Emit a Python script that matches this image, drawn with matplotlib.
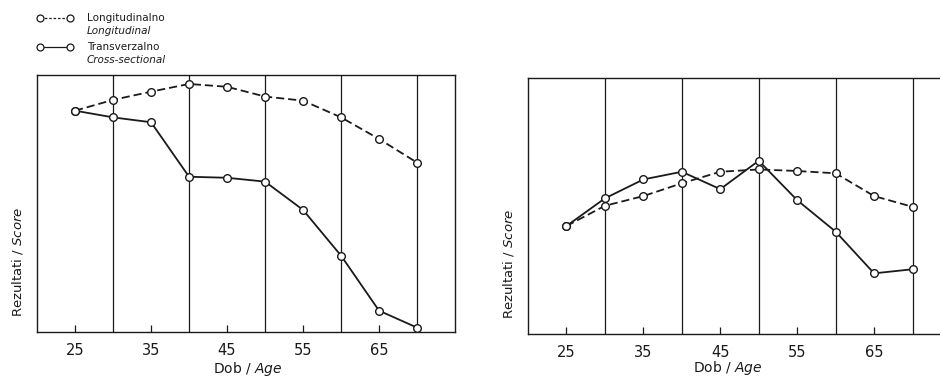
import numpy as np
import matplotlib
matplotlib.use("Agg")
import matplotlib.pyplot as plt
from matplotlib.lines import Line2D

plt.rcParams['font.family'] = ['DejaVu Sans']
plt.rcParams['mathtext.fontset'] = 'custom'
plt.rcParams['mathtext.rm'] = 'DejaVu Sans'
plt.rcParams['mathtext.it'] = 'DejaVu Sans:italic'

# starost / age
dob = [25, 30, 35, 40, 45, 50, 55, 60, 65, 70]

# lijevi graf (relativni rezultat, 0-100)
long_l = [86.1, 90.3, 93.5, 96.5, 95.4, 91.6, 90.0, 83.5, 75.1, 65.9]
trans_l = [86.1, 83.5, 81.6, 60.4, 60.0, 58.5, 47.5, 29.7, 8.3, 1.7]

# desni graf
long_r = [42.2, 50.1, 53.9, 58.9, 63.4, 64.3, 63.7, 62.8, 53.9, 49.7]
trans_r = [42.2, 53.0, 60.4, 63.4, 56.6, 67.7, 52.3, 40.0, 23.7, 25.3]

tick_pos = [25, 35, 45, 55, 65]
grid_pos = [30, 40, 50, 60, 70]

ink = '#1a1a1a'

fig = plt.figure(figsize=(9.4, 3.78), dpi=100)
ax1 = fig.add_axes([0.0394, 0.1217, 0.4447, 0.680])
ax2 = fig.add_axes([0.5617, 0.1164, 0.450, 0.677])


def crtaj(ax, lon, tr):
    for g in grid_pos:
        ax.axvline(g, color=ink, lw=0.9, zorder=1)
    ax.plot(dob, lon, ls=(0, (4.5, 2.2)), color=ink, lw=1.3, marker='o',
            ms=5.5, mfc='white', mec=ink, mew=1.0, zorder=3)
    ax.plot(dob, tr, ls='-', color=ink, lw=1.3, marker='o',
            ms=5.5, mfc='white', mec=ink, mew=1.0, zorder=3)
    ax.set_xlim(20, 75)
    ax.set_ylim(0, 100)
    ax.set_xticks(tick_pos)
    ax.set_xticklabels([str(t) for t in tick_pos], fontsize=10.5, color=ink)
    ax.set_yticks([])
    ax.tick_params(axis='x', direction='in', length=5, width=0.9, pad=8, colors=ink)
    for s in ax.spines.values():
        s.set_color(ink)
        s.set_linewidth(1.0)


crtaj(ax1, long_l, trans_l)
crtaj(ax2, long_r, trans_r)

# osi - tekst
fig.text(18 / 940, 1 - 262 / 378, 'Rezultati / $\\mathit{Score}$', rotation=90,
         ha='center', va='center', fontsize=9.5, color=ink)
fig.text(508 / 940, 1 - 264 / 378, 'Rezultati / $\\mathit{Score}$', rotation=90,
         ha='center', va='center', fontsize=9.5, color=ink)
fig.text(248 / 940, 1 - 369 / 378, 'Dob / $\\mathit{Age}$', ha='center', va='center',
         fontsize=10, color=ink)
fig.text(728 / 940, 1 - 368 / 378, 'Dob / $\\mathit{Age}$', ha='center', va='center',
         fontsize=10, color=ink)

# legenda
lx0, lx1 = 40 / 940, 70 / 940
for yy, ls in [(18, (0, (2, 1.5))), (47, '-')]:
    fy = 1 - yy / 378
    fig.add_artist(Line2D([lx0, lx1], [fy, fy], transform=fig.transFigure,
                          color=ink, lw=0.9, ls=ls, marker='o', ms=5,
                          mfc='white', mec=ink, mew=0.9))
fig.text(87 / 940, 1 - 18 / 378, 'Longitudinalno', fontsize=7.5, va='center', color=ink)
fig.text(87 / 940, 1 - 31 / 378, 'Longitudinal', fontsize=7.5, va='center',
         style='italic', color=ink)
fig.text(87 / 940, 1 - 47 / 378, 'Transverzalno', fontsize=7.5, va='center', color=ink)
fig.text(87 / 940, 1 - 60 / 378, 'Cross-sectional', fontsize=7.5, va='center',
         style='italic', color=ink)

fig.savefig('out.png', dpi=100, facecolor='white')
